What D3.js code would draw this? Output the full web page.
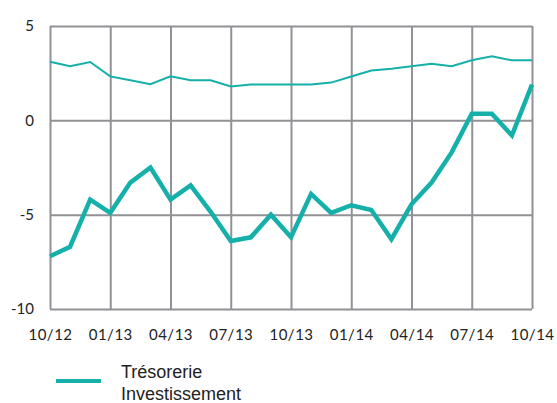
<!DOCTYPE html>
<html>
<head>
<meta charset="utf-8">
<script src="https://cdn.jsdelivr.net/npm/d3@7"></script>
<style>
	body { margin: 0; background: #fff; }
	svg text { font-family: "Lato", "Open Sans", sans-serif; fill: #222; }
</style>
</head>
<body>
<div id="chart"></div>
<script>
const months = [
	"10/12", "11/12", "12/12", "01/13", "02/13", "03/13", "04/13", "05/13", "06/13",
	"07/13", "08/13", "09/13", "10/13", "11/13", "12/13", "01/14", "02/14", "03/14",
	"04/14", "05/14", "06/14", "07/14", "08/14", "09/14", "10/14",
];
const tick_months = ["10/12", "01/13", "04/13", "07/13", "10/13", "01/14", "04/14", "07/14", "10/14"];
const y_ticks = [-10, -5, 0, 5];

const tresorerie = [
	-7.2, -6.7, -4.2, -4.9, -3.3, -2.5, -4.2, -3.45, -4.85, -6.4, -6.2, -5.0, -6.2,
	-3.9, -4.9, -4.5, -4.75, -6.3, -4.45, -3.3, -1.7, 0.35, 0.35, -0.8, 1.9,
];
const investissement = [
	3.1, 2.87, 3.09, 2.33, 2.12, 1.92, 2.33, 2.12, 2.12, 1.8, 1.9, 1.9, 1.9,
	1.9, 2.0, 2.32, 2.64, 2.74, 2.87, 3.0, 2.87, 3.18, 3.4, 3.18, 3.18,
];

const margin = { top: 26, right: 25, bottom: 94, left: 50 },
	width = 557 - margin.left - margin.right,
	height = 403 - margin.top - margin.bottom;

const teal = "#14b0a9";
const grid_colour = "#929296";

const svg = d3
	.select("#chart")
	.append("svg")
	.attr("width", 557)
	.attr("height", 403)
	.append("g")
	.attr("transform", `translate(${margin.left},${margin.top})`);

const x = d3.scalePoint().domain(months).range([0, width]);
const y = d3.scaleLinear().domain([-10, 5]).range([height, 0]);

// grid, drawn through the axes
svg
	.append("g")
	.attr("transform", `translate(0, ${height})`)
	.call(d3.axisBottom(x).tickValues(tick_months).tickSize(-height).tickPadding(20))
	.call((g) => g.select(".domain").remove())
	.call((g) => g.selectAll("line").attr("stroke", grid_colour).attr("stroke-width", 2))
	.call((g) => g.selectAll("text").style("font-size", "15px").style("letter-spacing", "0.5px"));

svg
	.append("g")
	.call(
		d3.axisLeft(y)
			.tickValues(y_ticks)
			.tickSize(-width)
			.tickPadding(16)
			.tickFormat((d) => String(d))
	)
	.call((g) => g.select(".domain").remove())
	.call((g) => g.selectAll("line").attr("stroke", grid_colour).attr("stroke-width", 2))
	.call((g) => g.selectAll("text").style("font-size", "15px"));

const line = d3
	.line()
	.x((d, i) => x(months[i]))
	.y((d) => y(d));

svg
	.append("path")
	.datum(investissement)
	.attr("fill", "none")
	.attr("stroke", teal)
	.attr("stroke-width", 2)
	.attr("d", line);

svg
	.append("path")
	.datum(tresorerie)
	.attr("fill", "none")
	.attr("stroke", teal)
	.attr("stroke-width", 4.5)
	.attr("d", line);

// legend
const legend = svg.append("g").attr("transform", `translate(0, ${height + 56})`);
legend
	.append("line")
	.attr("x1", 6)
	.attr("x2", 51)
	.attr("y1", 16)
	.attr("y2", 16)
	.attr("stroke", teal)
	.attr("stroke-width", 4);
legend
	.append("text")
	.attr("x", 71)
	.attr("y", 13)
	.style("font-family", "Liberation Sans, Arial, sans-serif")
	.style("font-size", "18px")
	.text("Trésorerie");
legend
	.append("text")
	.attr("x", 71)
	.attr("y", 35)
	.style("font-family", "Liberation Sans, Arial, sans-serif")
	.style("font-size", "18px")
	.text("Investissement");
</script>
</body>
</html>
